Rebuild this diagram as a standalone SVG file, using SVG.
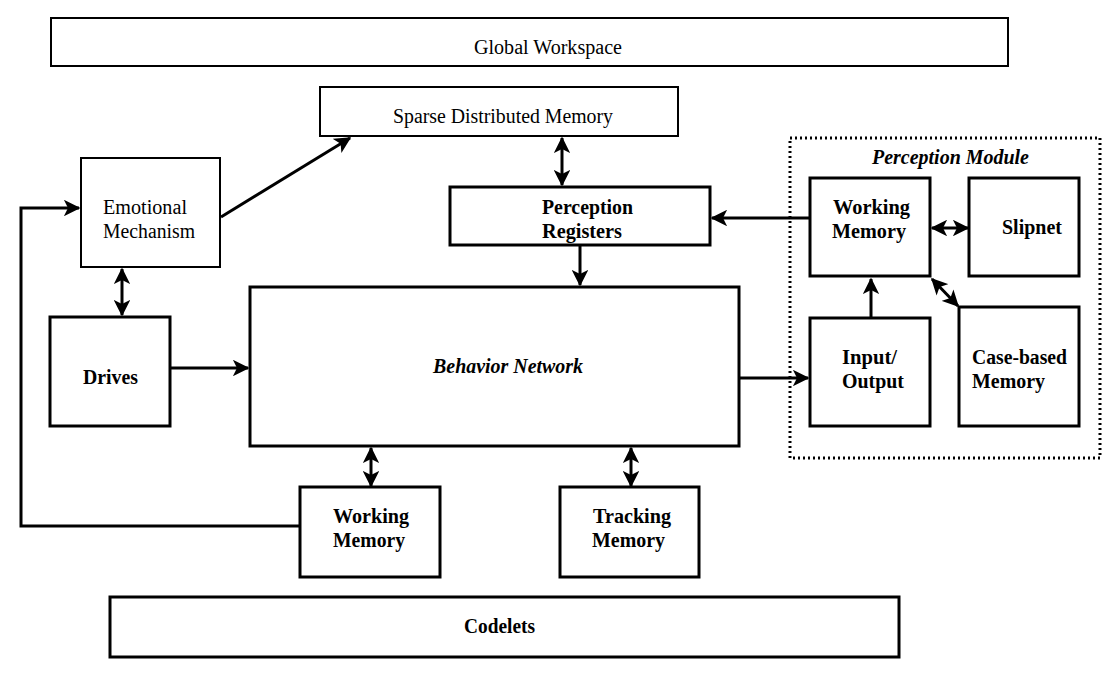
<svg xmlns="http://www.w3.org/2000/svg" width="1114" height="676" viewBox="0 0 1114 676">
<style>
.thin{fill:#fff;stroke:#000;stroke-width:2}
.thick{fill:#fff;stroke:#000;stroke-width:3}
.r{font-family:"Liberation Serif","Times New Roman",serif;font-size:20px;fill:#000}
.b{font-family:"Liberation Serif","Times New Roman",serif;font-size:20px;font-weight:bold;fill:#000}
.bi{font-family:"Liberation Serif","Times New Roman",serif;font-size:20px;font-weight:bold;font-style:italic;fill:#000}
.c{fill:none;stroke:#000;stroke-width:3}
</style>
<defs>
<marker id="ah" viewBox="0 0 12 12" refX="11" refY="6" markerWidth="5.5" markerHeight="5.5" orient="auto-start-reverse" markerUnits="strokeWidth">
<path d="M0,0 L12,6 L0,12 L3,6 z" fill="#000"/>
</marker>
</defs>
<rect width="1114" height="676" fill="#fff"/>
<g id="connectors">
<polyline class="c" points="300,526 21,526 21,208 79,208" marker-end="url(#ah)"/>
<line class="c" x1="221" y1="217" x2="350" y2="138" marker-end="url(#ah)"/>
<line class="c" x1="122" y1="269" x2="122" y2="315" marker-start="url(#ah)" marker-end="url(#ah)"/>
<line class="c" x1="562" y1="138" x2="562" y2="185" marker-start="url(#ah)" marker-end="url(#ah)"/>
<line class="c" x1="580" y1="246" x2="580" y2="285" marker-end="url(#ah)"/>
<line class="c" x1="170" y1="368" x2="248" y2="368" marker-end="url(#ah)"/>
<line class="c" x1="740" y1="378" x2="808" y2="378" marker-end="url(#ah)"/>
<line class="c" x1="810" y1="218" x2="712" y2="218" marker-end="url(#ah)"/>
<line class="c" x1="871" y1="318" x2="871" y2="279" marker-end="url(#ah)"/>
<line class="c" x1="932" y1="228" x2="968" y2="228" marker-start="url(#ah)" marker-end="url(#ah)"/>
<line class="c" x1="932" y1="279" x2="958" y2="306" marker-start="url(#ah)" marker-end="url(#ah)"/>
<line class="c" x1="371" y1="448" x2="371" y2="486" marker-start="url(#ah)" marker-end="url(#ah)"/>
<line class="c" x1="631" y1="448" x2="631" y2="486" marker-start="url(#ah)" marker-end="url(#ah)"/>
</g>
<g id="global-workspace"><rect class="thin" x="51" y="18" width="957" height="48"/><text class="r" x="474" y="54" textLength="148" lengthAdjust="spacingAndGlyphs">Global Workspace</text></g>
<g id="sdm"><rect class="thin" x="320" y="87" width="358" height="49"/><text class="r" x="393" y="123" textLength="220" lengthAdjust="spacingAndGlyphs">Sparse Distributed Memory</text></g>
<g id="emotional"><rect class="thin" x="81" y="158" width="139" height="109"/><text class="r" x="103" y="214" textLength="84" lengthAdjust="spacingAndGlyphs">Emotional</text><text class="r" x="103" y="238" textLength="92" lengthAdjust="spacingAndGlyphs">Mechanism</text></g>
<g id="drives"><rect class="thick" x="50" y="317" width="120" height="109"/><text class="b" x="83" y="384" textLength="55" lengthAdjust="spacingAndGlyphs">Drives</text></g>
<g id="perception-registers"><rect class="thick" x="450" y="187" width="260" height="58"/><text class="b" x="542" y="214" textLength="91" lengthAdjust="spacingAndGlyphs">Perception</text><text class="b" x="542" y="238" textLength="80" lengthAdjust="spacingAndGlyphs">Registers</text></g>
<g id="behavior-network"><rect class="thick" x="250" y="287" width="489" height="159"/><text class="bi" x="433" y="373" textLength="150" lengthAdjust="spacingAndGlyphs">Behavior Network</text></g>
<g id="perception-module"><rect x="790" y="138" width="310" height="320" fill="none" stroke="#000" stroke-width="3" stroke-dasharray="2,3"/><text class="bi" x="872" y="164" textLength="157" lengthAdjust="spacingAndGlyphs">Perception Module</text></g>
<g id="pm-working-memory"><rect class="thick" x="810" y="178" width="120" height="98"/><text class="b" x="833" y="214" textLength="77" lengthAdjust="spacingAndGlyphs">Working</text><text class="b" x="832" y="238" textLength="74" lengthAdjust="spacingAndGlyphs">Memory</text></g>
<g id="slipnet"><rect class="thick" x="969" y="178" width="110" height="98"/><text class="b" x="1002" y="234" textLength="60" lengthAdjust="spacingAndGlyphs">Slipnet</text></g>
<g id="input-output"><rect class="thick" x="810" y="318" width="120" height="108"/><text class="b" x="842" y="364" textLength="55" lengthAdjust="spacingAndGlyphs">Input/</text><text class="b" x="842" y="388" textLength="62" lengthAdjust="spacingAndGlyphs">Output</text></g>
<g id="case-based"><rect class="thick" x="959" y="307" width="120" height="119"/><text class="b" x="972" y="364" textLength="95" lengthAdjust="spacingAndGlyphs">Case-based</text><text class="b" x="972" y="388" textLength="73" lengthAdjust="spacingAndGlyphs">Memory</text></g>
<g id="working-memory"><rect class="thick" x="300" y="487" width="140" height="90"/><text class="b" x="333" y="523" textLength="76" lengthAdjust="spacingAndGlyphs">Working</text><text class="b" x="333" y="547" textLength="72" lengthAdjust="spacingAndGlyphs">Memory</text></g>
<g id="tracking-memory"><rect class="thick" x="560" y="487" width="139" height="90"/><text class="b" x="593" y="523" textLength="78" lengthAdjust="spacingAndGlyphs">Tracking</text><text class="b" x="592" y="547" textLength="73" lengthAdjust="spacingAndGlyphs">Memory</text></g>
<g id="codelets"><rect class="thick" x="110" y="597" width="789" height="60"/><text class="b" x="464" y="633" textLength="71" lengthAdjust="spacingAndGlyphs">Codelets</text></g>
</svg>
